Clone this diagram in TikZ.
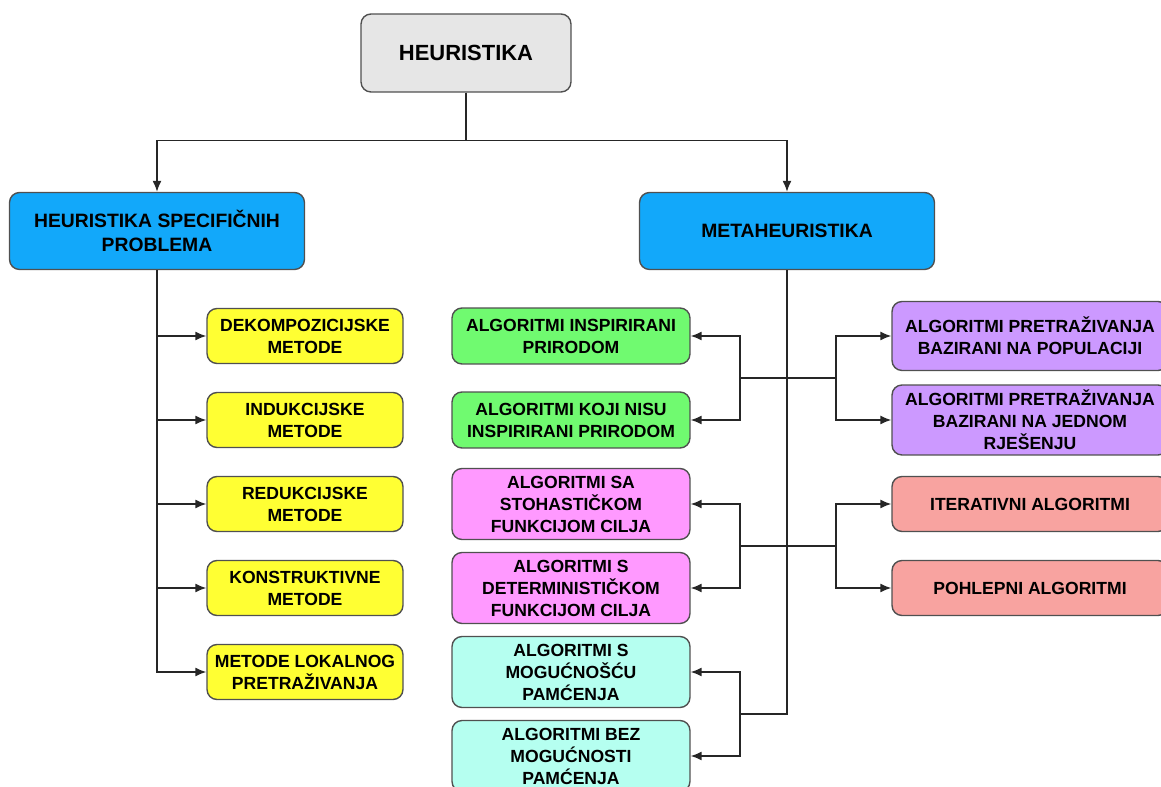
\documentclass[tikz,border=0pt]{standalone}
\usepackage{fontspec}
\setmainfont{Liberation Sans}
\usetikzlibrary{arrows.meta}

\definecolor{sivabox}{HTML}{E6E6E6}
\definecolor{plava}{HTML}{12A8FA}
\definecolor{zuta}{HTML}{FFFF33}
\definecolor{zelena}{HTML}{70FA70}
\definecolor{ruza}{HTML}{FF99FF}
\definecolor{tirkiz}{HTML}{B5FFF0}
\definecolor{ljubic}{HTML}{CC99FF}
\definecolor{losos}{HTML}{F8A3A0}
\definecolor{rub}{HTML}{505050}

\tikzset{
    kutija/.style={draw=rub, line width=0.8pt, rounded corners=0.2cm, align=center,
        font=\fontsize{10}{12.5}\selectfont\bfseries, inner sep=2pt},
    veza/.style={line width=0.8pt, draw=black!85},
    strel/.style={veza, -{Latex[length=2.2mm,width=1.8mm]}}
}

\begin{document}
\begin{tikzpicture}[x=0.02cm, y=-0.02cm]
                \useasboundingbox (0,0) rectangle (1161,787);
                % glavni cvorovi
                \node[kutija, fill=sivabox, minimum width=4.2cm, minimum height=1.56cm,
                    font=\fontsize{12.5}{15}\selectfont\bfseries] (heur) at (466,53) {HEURISTIKA};
                \node[kutija, fill=plava, minimum width=5.9cm, minimum height=1.54cm,
                    font=\fontsize{11}{14}\selectfont\bfseries] (hsp) at (157,231) {HEURISTIKA SPECIFIČNIH\\PROBLEMA};
                \node[kutija, fill=plava, minimum width=5.9cm, minimum height=1.54cm,
                    font=\fontsize{11}{14}\selectfont\bfseries] (meta) at (787,231) {METAHEURISTIKA};
                % metode lijevo
                \node[kutija, fill=zuta, minimum width=3.92cm, minimum height=1.1cm] (dek) at (305,336) {DEKOMPOZICIJSKE\\METODE};
                \node[kutija, fill=zuta, minimum width=3.92cm, minimum height=1.1cm] (ind) at (305,420) {INDUKCIJSKE\\METODE};
                \node[kutija, fill=zuta, minimum width=3.92cm, minimum height=1.1cm] (red) at (305,504) {REDUKCIJSKE\\METODE};
                \node[kutija, fill=zuta, minimum width=3.92cm, minimum height=1.1cm] (kon) at (305,588) {KONSTRUKTIVNE\\METODE};
                \node[kutija, fill=zuta, minimum width=3.92cm, minimum height=1.1cm] (lok) at (305,672) {METODE LOKALNOG\\PRETRAŽIVANJA};
                % metaheuristika lijevo
                \node[kutija, fill=zelena, minimum width=4.76cm, minimum height=1.12cm] (prir) at (571,336) {ALGORITMI INSPIRIRANI\\PRIRODOM};
                \node[kutija, fill=zelena, minimum width=4.76cm, minimum height=1.12cm] (neprir) at (571,420) {ALGORITMI KOJI NISU\\INSPIRIRANI PRIRODOM};
                \node[kutija, fill=ruza, minimum width=4.76cm, minimum height=1.42cm] (stoh) at (571,504) {ALGORITMI SA\\STOHASTIČKOM\\FUNKCIJOM CILJA};
                \node[kutija, fill=ruza, minimum width=4.76cm, minimum height=1.42cm] (det) at (571,588) {ALGORITMI S\\DETERMINISTIČKOM\\FUNKCIJOM CILJA};
                \node[kutija, fill=tirkiz, minimum width=4.76cm, minimum height=1.42cm] (pam) at (571,672) {ALGORITMI S\\MOGUĆNOŠĆU\\PAMĆENJA};
                \node[kutija, fill=tirkiz, minimum width=4.76cm, minimum height=1.42cm] (nepam) at (571,756) {ALGORITMI BEZ\\MOGUĆNOSTI\\PAMĆENJA};
                % metaheuristika desno
                \node[kutija, fill=ljubic, minimum width=5.52cm, minimum height=1.38cm] (pop) at (1030,336) {ALGORITMI PRETRAŽIVANJA\\BAZIRANI NA POPULACIJI};
                \node[kutija, fill=ljubic, minimum width=5.52cm, minimum height=1.4cm] (jed) at (1030,420) {ALGORITMI PRETRAŽIVANJA\\BAZIRANI NA JEDNOM\\RJEŠENJU};
                \node[kutija, fill=losos, minimum width=5.52cm, minimum height=1.1cm] (iter) at (1030,504) {ITERATIVNI ALGORITMI};
                \node[kutija, fill=losos, minimum width=5.52cm, minimum height=1.1cm] (pohl) at (1030,588) {POHLEPNI ALGORITMI};
                % cvorista
                \coordinate (gl) at (740,378);
                \coordinate (gd) at (836,378);
                \coordinate (rl) at (740,546);
                \coordinate (rd) at (836,546);
                \coordinate (tl) at (740,714);
                \coordinate (kraj) at (787,714);
                % veze
                \draw[strel] (heur.south) -- ++(0,48) -| (hsp.north);
                \draw[strel] (heur.south) -- ++(0,48) -| (meta.north);
                \foreach \m in {dek,ind,red,kon,lok}
                    \draw[strel] (hsp.south) |- (\m.west);
                \draw[veza] (meta.south) -- (kraj) -- (tl);
                \draw[veza] (gl) -- (gd);
                \draw[veza] (rl) -- (rd);
                \draw[strel] (gl) |- (prir.east);
                \draw[strel] (gl) |- (neprir.east);
                \draw[strel] (gd) |- (pop.west);
                \draw[strel] (gd) |- (jed.west);
                \draw[strel] (rl) |- (stoh.east);
                \draw[strel] (rl) |- (det.east);
                \draw[strel] (rd) |- (iter.west);
                \draw[strel] (rd) |- (pohl.west);
                \draw[strel] (tl) |- (pam.east);
                \draw[strel] (tl) |- (nepam.east);
\end{tikzpicture}
\end{document}
